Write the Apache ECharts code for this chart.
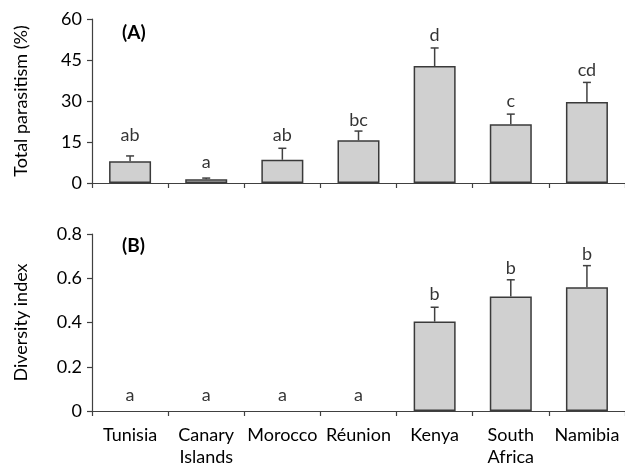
<!DOCTYPE html>
<html><head><meta charset="utf-8">
<script src="https://cdn.jsdelivr.net/npm/echarts@6/dist/echarts.min.js"></script>
<style>html,body{margin:0;padding:0;background:#fff}#c{width:625px;height:468px}</style>
</head><body><div id="c"></div>
<script>
const categories = ['Tunisia', 'Canary\nIslands', 'Morocco', 'Réunion', 'Kenya', 'South\nAfrica', 'Namibia'];
const parasitismMean = [8.0, 1.35, 8.5, 15.6, 42.8, 21.5, 29.6];
const parasitismErr  = [1.9, 0.45, 4.2, 3.4, 6.6, 3.7, 7.2];
const parasitismLetters = ['ab', 'a', 'ab', 'bc', 'd', 'c', 'cd'];
const parasitismLetterY = [17.6, 7.7, 17.6, 22.8, 53.9, 29.8, 41.2];
const diversityMean = [0, 0, 0, 0, 0.404, 0.517, 0.559];
const diversityErr  = [0, 0, 0, 0, 0.065, 0.076, 0.098];
const diversityLetters = ['a', 'a', 'a', 'a', 'b', 'b', 'b'];
const diversityLetterY = [0.072, 0.072, 0.072, 0.072, 0.529, 0.645, 0.708];
const ticksA = [0, 15, 30, 45, 60];
const ticksB = [0, 0.2, 0.4, 0.6, 0.8];

const FONT = 'Lato';
const AX = '#404040';
const chart = echarts.init(document.getElementById('c'));

function errItem() {
  return function (params, api) {
    const i = api.value(0);
    const m = api.value(1), e = api.value(2);
    if (e <= 0) return null;
    const p0 = api.coord([i, m]);
    const p1 = api.coord([i, m + e]);
    const st = { stroke: AX, lineWidth: 1.5 };
    return { type: 'group', children: [
      { type: 'line', shape: { x1: p0[0], y1: p0[1], x2: p1[0], y2: p1[1] }, style: st },
      { type: 'line', shape: { x1: p1[0] - 4, y1: p1[1], x2: p1[0] + 4, y2: p1[1] }, style: st }
    ]};
  };
}

function xAxisCfg(idx, showLabels) {
  return {
    type: 'category', gridIndex: idx, data: categories,
    axisLine: { lineStyle: { color: AX, width: 1.2 } },
    axisTick: { show: true, length: 5, lineStyle: { color: AX, width: 1.2 } },
    axisLabel: { show: showLabels, color: '#000', fontFamily: FONT, fontSize: 18, lineHeight: 22, margin: 13, interval: 0 }
  };
}
function yAxisCfg(idx, max, interval, name) {
  return {
    type: 'value', gridIndex: idx, min: 0, max: max, interval: interval,
    name: name, nameLocation: 'middle', nameGap: 62,
    nameTextStyle: { color: '#000', fontFamily: FONT, fontSize: 18 },
    axisLine: { show: true, lineStyle: { color: AX, width: 1.2 } },
    axisTick: { show: true, length: 5, lineStyle: { color: AX, width: 1.2 } },
    axisLabel: { color: '#000', fontFamily: FONT, fontSize: 18, margin: 10 },
    splitLine: { show: false }
  };
}

const barStyle = { color: '#d0d0d0', borderColor: '#3a3a3a', borderWidth: 1.5 };
const labelCfg = { show: true, position: 'inside', color: '#000', fontFamily: FONT, fontSize: 18 };
const barData = arr => arr.map(v => ({ value: v, itemStyle: { borderWidth: v === 0 ? 0 : 1.5, opacity: v === 0 ? 0 : 1 } }));

chart.setOption({
  animation: false,
  grid: [
    { left: 92, top: 19, width: 535, height: 164 },
    { left: 92, top: 234, width: 535, height: 177 }
  ],
  xAxis: [xAxisCfg(0, false), xAxisCfg(1, true)],
  yAxis: [yAxisCfg(0, 60, 15, 'Total parasitism (%)'), yAxisCfg(1, 0.8, 0.2, 'Diversity index')],
  graphic: [
    { type: 'text', left: 122, top: 23, style: { text: '(A)', font: 'bold 19px ' + FONT, fill: '#000' } },
    { type: 'text', left: 122, top: 236, style: { text: '(B)', font: 'bold 19px ' + FONT, fill: '#000' } }
  ],
  series: [
    { type: 'bar', xAxisIndex: 0, yAxisIndex: 0, data: barData(parasitismMean), barWidth: 42, itemStyle: barStyle },
    { type: 'custom', xAxisIndex: 0, yAxisIndex: 0, renderItem: errItem(),
      data: parasitismMean.map((m, i) => [i, m, parasitismErr[i]]), z: 5 },
    { type: 'scatter', xAxisIndex: 0, yAxisIndex: 0, symbolSize: 0,
      data: parasitismLetterY.map((y, i) => [i, y]),
      label: Object.assign({}, labelCfg, { formatter: p => parasitismLetters[p.dataIndex] }) },
    { type: 'bar', xAxisIndex: 1, yAxisIndex: 1, data: barData(diversityMean), barWidth: 42, itemStyle: barStyle },
    { type: 'custom', xAxisIndex: 1, yAxisIndex: 1, renderItem: errItem(),
      data: diversityMean.map((m, i) => [i, m, diversityErr[i]]), z: 5 },
    { type: 'scatter', xAxisIndex: 1, yAxisIndex: 1, symbolSize: 0,
      data: diversityLetterY.map((y, i) => [i, y]),
      label: Object.assign({}, labelCfg, { formatter: p => diversityLetters[p.dataIndex] }) }
  ]
});
</script></body></html>
